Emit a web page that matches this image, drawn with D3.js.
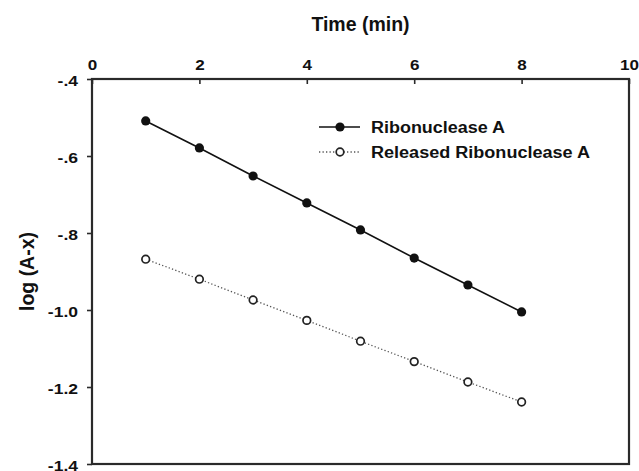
<!DOCTYPE html>
<html>
<head>
<meta charset="utf-8">
<script src="https://cdn.jsdelivr.net/npm/d3@7"></script>
<style>
  html, body { margin: 0; padding: 0; background: #fff; }
  svg { display: block; }
  text { font-family: "Liberation Sans", Arial, sans-serif; font-weight: bold; fill: #111; }
</style>
</head>
<body>
<svg id="chart" width="639" height="471"></svg>
<script>
// ---- data ----
const time = [1, 2, 3, 4, 5, 6, 7, 8];
const ribonuclease = [-0.509, -0.579, -0.652, -0.722, -0.792, -0.865, -0.935, -1.005];
const released = [-0.868, -0.920, -0.974, -1.027, -1.081, -1.134, -1.187, -1.239];
const xTicks = [0, 2, 4, 6, 8, 10];
const xTickLabels = ["0", "2", "4", "6", "8", "10"];
const yTicks = [-0.4, -0.6, -0.8, -1.0, -1.2, -1.4];
const yTickLabels = ["-.4", "-.6", "-.8", "-1.0", "-1.2", "-1.4"];
const seriesNames = ["Ribonuclease A", "Released Ribonuclease A"];
const xTitle = "Time (min)";
const yTitle = "log (A-x)";

// ---- layout ----
const svg = d3.select("#chart");
const L = 92, R = 629, T = 79, B = 464;
const x = d3.scaleLinear().domain([0, 10]).range([L, R]);
const y = d3.scaleLinear().domain([-0.4, -1.4]).range([T, B]);
const FONT = "'Liberation Sans', Arial, sans-serif";

function stretch(sel, k) {
  sel.each(function () {
    const w = this.getComputedTextLength();
    d3.select(this).attr("textLength", w * k).attr("lengthAdjust", "spacingAndGlyphs");
  });
}

// frame
svg.append("rect")
  .attr("x", L).attr("y", T).attr("width", R - L).attr("height", B - T)
  .attr("fill", "none").attr("stroke", "#2a2a2a").attr("stroke-width", 2.2);

// top axis
const xAxis = d3.axisTop(x).tickValues(xTicks)
  .tickFormat((d, i) => xTickLabels[i])
  .tickSizeInner(-5).tickSizeOuter(0).tickPadding(9.5);
const gx = svg.append("g").attr("transform", `translate(0,${T})`).call(xAxis)
  .attr("font-size", null).attr("font-family", null);
gx.select(".domain").remove();
gx.selectAll(".tick line").attr("stroke", "#2a2a2a").attr("stroke-width", 1.6);
gx.selectAll(".tick text").style("font-size", "15.5px").style("font-weight", "bold")
  .style("font-family", FONT).attr("fill", "#111").call(stretch, 1.1);

// left axis
const yAxis = d3.axisLeft(y).tickValues(yTicks)
  .tickFormat((d, i) => yTickLabels[i])
  .tickSizeInner(5).tickSizeOuter(0).tickPadding(9);
const gy = svg.append("g").attr("transform", `translate(${L},0)`).call(yAxis)
  .attr("font-size", null).attr("font-family", null);
gy.select(".domain").remove();
gy.selectAll(".tick line").attr("stroke", "#2a2a2a").attr("stroke-width", 1.6);
gy.selectAll(".tick text").style("font-size", "15.5px").style("font-weight", "bold")
  .style("font-family", FONT).attr("fill", "#111").attr("dy", "0.45em").call(stretch, 1.13);

// titles
svg.append("text").attr("x", (L + R) / 2).attr("y", 31)
  .attr("text-anchor", "middle").style("font-size", "19.5px").text(xTitle);
svg.append("text")
  .attr("transform", `translate(34,${(T + B) / 2}) rotate(-90)`)
  .attr("text-anchor", "middle").style("font-size", "19.5px").text(yTitle);

// lines
const line = (vals) => d3.line().x((d, i) => x(time[i])).y(d => y(d))(vals);
svg.append("path").attr("d", line(released)).attr("fill", "none")
  .attr("stroke", "#555").attr("stroke-width", 1.3).attr("stroke-dasharray", "1.3,2.2");
svg.append("path").attr("d", line(ribonuclease)).attr("fill", "none")
  .attr("stroke", "#111").attr("stroke-width", 1.6);

// points
svg.append("g").selectAll("circle").data(released).join("circle")
  .attr("cx", (d, i) => x(time[i])).attr("cy", d => y(d)).attr("r", 3.8)
  .attr("fill", "#fff").attr("stroke", "#222").attr("stroke-width", 1.7);
svg.append("g").selectAll("circle").data(ribonuclease).join("circle")
  .attr("cx", (d, i) => x(time[i])).attr("cy", d => y(d)).attr("r", 4.6)
  .attr("fill", "#111");

// legend
const lg = svg.append("g");
const legY = [127, 152];
const legW = [134, 219];
lg.append("line").attr("x1", 319).attr("x2", 360).attr("y1", legY[0]).attr("y2", legY[0])
  .attr("stroke", "#111").attr("stroke-width", 1.6);
lg.append("circle").attr("cx", 340).attr("cy", legY[0]).attr("r", 4.6).attr("fill", "#111");
lg.append("line").attr("x1", 319).attr("x2", 360).attr("y1", legY[1]).attr("y2", legY[1])
  .attr("stroke", "#555").attr("stroke-width", 1.3).attr("stroke-dasharray", "1.3,2.2");
lg.append("circle").attr("cx", 340).attr("cy", legY[1]).attr("r", 3.8)
  .attr("fill", "#fff").attr("stroke", "#222").attr("stroke-width", 1.7);
seriesNames.forEach((name, i) => {
  lg.append("text").attr("x", 371).attr("y", legY[i]).attr("dy", "0.36em")
    .style("font-size", "16px").attr("textLength", legW[i]).attr("lengthAdjust", "spacingAndGlyphs")
    .text(name);
});
</script>
</body>
</html>
